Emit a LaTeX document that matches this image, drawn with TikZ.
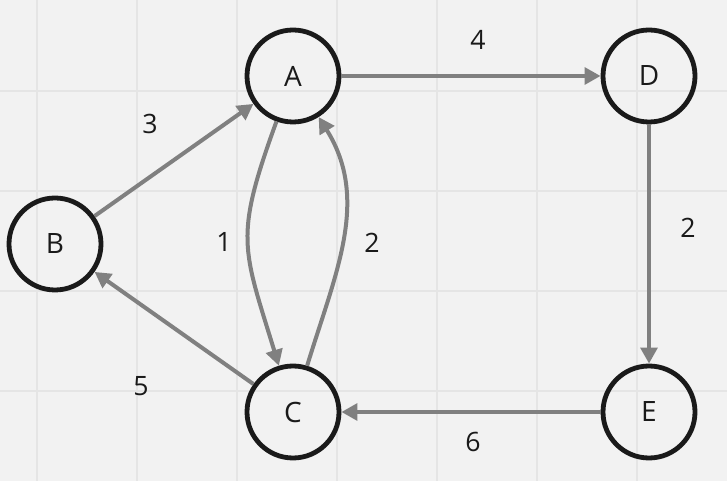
\documentclass[tikz,border=0pt]{standalone}
\usepackage{fontspec}
\setmainfont{Open Sans}
\usetikzlibrary{arrows.meta}
\definecolor{bgpaper}{HTML}{F2F2F2}
\definecolor{gridgray}{HTML}{E5E5E5}
\definecolor{edgegray}{HTML}{808080}
\definecolor{inkdark}{HTML}{1A1A1A}
\tikzset{
  vertex/.style={draw=inkdark, circle, line width=3.6pt, minimum size=69pt,
                 inner sep=0pt, font=\fontsize{21}{24}\selectfont, text=inkdark},
  edgearrow/.style={-{Triangle[length=12pt, width=12.5pt]}, draw=edgegray,
                    line width=3pt},
  weight/.style={font=\fontsize{20}{24}\selectfont, text=inkdark},
  gridline/.style={draw=gridgray, line width=1.3pt},
}

\begin{document}
\begin{tikzpicture}[x=0.75pt, y=0.75pt]

% ================= paper and grid =================
\useasboundingbox (0,0) rectangle (727,481);
\fill[bgpaper] (0,0) rectangle (727,481);
\foreach \x in {37,137,...,637} \draw[gridline] (\x,0) -- (\x,481);
\foreach \y in {90,190,...,390} \draw[gridline] (0,\y) -- (727,\y);

% ================= vertices =================
\node[vertex] (A) at (293,405) {A};
\node[vertex] (D) at (649,405) {D};
\node[vertex] (B) at (55,237) {B};
\node[vertex] (C) at (293,69) {C};
\node[vertex] (E) at (649,69) {E};

% ================= edges =================
\draw[edgearrow] (A) -- (D);
\draw[edgearrow] (B) -- (A);
\draw[edgearrow] (A) to[out=250, in=107, looseness=1.3] (C);
\draw[edgearrow] (C) to[out=73, in=302, looseness=1.0] (A);
\draw[edgearrow] (D) -- (E);
\draw[edgearrow] (E) -- (C);
\draw[edgearrow] (C) -- (B);

% ================= weights =================
\node[weight] (wAD) at (478,441) {4};
\node[weight] (wBA) at (150,357) {3};
\node[weight] (wAC) at (224,239) {1};
\node[weight] (wCA) at (372,238) {2};
\node[weight] (wDE) at (688,253) {2};
\node[weight] (wCB) at (141,95) {5};
\node[weight] (wEC) at (473,39) {6};
\end{tikzpicture}
\end{document}
